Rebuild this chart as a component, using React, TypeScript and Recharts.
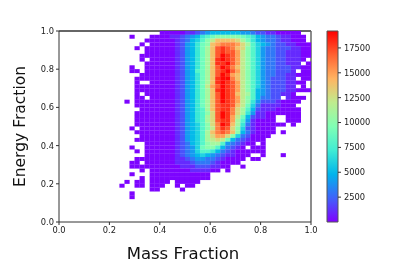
import { Bar, BarChart, ReferenceLine, Scatter, ScatterChart, XAxis, YAxis } from "recharts";

const FONT = "'DejaVu Sans', sans-serif";
const BINS = 50;
const VMAX = 19200;

const axisTicks = [0, 0.2, 0.4, 0.6, 0.8, 1];
const colorbarTicks = [2500, 5000, 7500, 10000, 12500, 15000, 17500];

// Histogram counts per cell, top row first, in thousands (base 36: a = 10000 ... j = 19000).
// "." is an empty bin, "0" a bin with a handful of counts. Spaces only group every 10 columns.
const countRows = [
  ".......... .......... 0000011234 5555554432 21100000..",
  ".......... ....0...00 0011234578 9aaaaa9875 433211000.",
  ".......... .......000 000123568a ceeeedb975 433211000.",
  ".......... ......0.00 000124579a efgggfdb86 5432211000",
  ".......... .....0.000 000124579b ehihgeda86 4332221100",
  ".......... .......000 000124579b ehihhfca86 4332211100",
  ".......... ......0000 000124579b ehjihfca86 4332211100",
  ".......... ......0.00 000124579b eijihfca86 433221110.",
  ".......... .......000 000124579b eiijhfca86 43322111.0",
  ".......... ....0..000 000124579b ehjigeca86 4332221100",
  ".......... ....00.000 000124589b ehijhfca86 4332221.00",
  ".......... ......0000 000124579b ehjifeca86 4332211000",
  ".......... .....00000 000124579b eijjgeca86 4322211.00",
  ".......... .....0..00 000124579b eijihfca86 432221100.",
  ".......... .....00000 000124579c fhjihfca86 4322211.0.",
  ".......... .....00000 000124579b eijihfca85 4322211000",
  ".......... .....0.000 000124579b ehjihecb85 4322110...",
  ".......... .....00.00 000124579b ehjihfca85 3322.1000.",
  ".......... ...0.00000 000124579b ehjihfca74 22210000..",
  ".......... .....00000 000124579b ehiihec963 1111000...",
  ".......... ......0000 000124578b ehiigdb852 11100000..",
  ".......... .....00000 000124578a dhjigdb741 10000000..",
  ".......... .....00000 000124578b dhjifc9521 100..000..",
  ".......... .....00000 000124578b dhiifb8410 000..000..",
  ".......... .....00000 000124568a dgjieb7310 00000.0...",
  ".......... ....0.0000 000124568a cgihda6210 000.......",
  ".......... .....00000 000124568b eghgea5310 000.0.....",
  ".......... ......0000 000124568b dffda63200 00........",
  ".......... .....00000 000124568b cdc9532100 0.........",
  ".......... .......000 000123568a bb8432100. 0.........",
  ".......... ....0..000 000123469a a853210.00 0.........",
  ".......... .....0.000 0001234688 7532100000 0.........",
  ".......... .......000 0001234565 43211000.. 0...0.....",
  ".......... .....00000 0001123443 3210000.00 ..........",
  ".......... ....00.000 0001112333 210000.... ..........",
  ".......... ....000000 0000111222 1100..0... ..........",
  ".......... ......0.00 0000001111 00.0...... ..........",
  ".......... ....0...00 0000000000 .......... ..........",
  ".......... ......0.00 0000000000 .......... ..........",
  ".......... ...0.00.00 00.00000.. .......... ..........",
  ".......... ..0..00.00 0..0.00... .......... ..........",
  ".......... ........00 ....0..... .......... ..........",
  ".......... ....0..... .......... .......... ..........",
  ".......... ....0..... .......... .......... ..........",
];

function toCount(ch: string) {
  return ch === "0" ? 100 : parseInt(ch, 36) * 1000;
}

// matplotlib's "rainbow" colormap
function rainbow(t: number) {
  const r = Math.min(1, Math.abs(2 * t - 0.5));
  const g = Math.sin(Math.PI * t);
  const b = Math.cos((Math.PI * t) / 2);
  const hex = (v: number) => Math.round(v * 255).toString(16).padStart(2, "0");
  return `#${hex(r)}${hex(g)}${hex(b)}`;
}

const cells: { x: number; y: number; count: number }[] = [];
countRows.forEach((row, r) => {
  row.replace(/ /g, "").split("").forEach((ch, c) => {
    if (ch !== ".") cells.push({ x: (c + 0.5) / BINS, y: 1 - (r + 0.5) / BINS, count: toCount(ch) });
  });
});

const barStops = [0, 0.125, 0.25, 0.375, 0.5, 0.625, 0.75, 0.875, 1];
const colorbarData = [{ name: "counts", value: VMAX }];

const PLOT_W = 252;
const PLOT_H = 191;

function HeatCell(props: any) {
  // a hair of overlap, otherwise white seams show between the bins
  const w = PLOT_W / BINS + 0.15;
  const h = PLOT_H / BINS + 0.15;
  return (
    <rect
      x={props.cx - w / 2}
      y={props.cy - h / 2}
      width={w}
      height={h}
      fill={rainbow(props.payload.count / VMAX)}
    />
  );
}

const tickStyle = { fontSize: 8.3, fontFamily: FONT, fill: "#222" };
const labelStyle = { fontFamily: FONT, fill: "#111" };

export default function App() {
  return (
    // the reference is a resampled raster, hence the slight blur
    <div style={{ position: "absolute", left: 0, top: 0, width: 415, height: 277, background: "#fff", filter: "blur(0.35px)" }}>
      <div style={{ position: "absolute", left: 0, top: 0 }}>
        <ScatterChart width={415} height={277} margin={{ top: 31, right: 104, bottom: 0, left: 0 }}>
          <XAxis
            type="number"
            dataKey="x"
            domain={[0, 1]}
            ticks={axisTicks}
            tickFormatter={(v: number) => v.toFixed(1)}
            height={55}
            tickSize={3}
            tickMargin={2}
            tick={tickStyle}
            stroke="#333"
            label={{ value: "Mass Fraction", position: "insideBottom", offset: 18, dx: -2, style: { ...labelStyle, fontSize: 16.5 } }}
          />
          <YAxis
            type="number"
            dataKey="y"
            domain={[0, 1]}
            ticks={axisTicks}
            tickFormatter={(v: number) => v.toFixed(1)}
            width={59}
            tickSize={3}
            tickMargin={2}
            tick={tickStyle}
            stroke="#333"
            label={{ value: "Energy Fraction", angle: -90, position: "insideLeft", offset: 19, style: { ...labelStyle, fontSize: 15.5, textAnchor: "middle" } }}
          />
          <Scatter data={cells} shape={HeatCell} isAnimationActive={false} />
          <ReferenceLine y={1} stroke="#333" strokeWidth={1.5} />
          <ReferenceLine x={1} stroke="#666" strokeWidth={1.5} />
        </ScatterChart>
      </div>
      <div style={{ position: "absolute", left: 0, top: 0 }}>
        <BarChart
          width={415}
          height={277}
          data={colorbarData}
          margin={{ top: 31, right: 0, bottom: 55, left: 327 }}
          barCategoryGap={0}
        >
          <defs>
            <linearGradient id="rainbowBar" x1="0" y1="1" x2="0" y2="0">
              {barStops.map((t) => (
                <stop key={t} offset={t} stopColor={rainbow(t)} />
              ))}
            </linearGradient>
          </defs>
          <XAxis dataKey="name" hide />
          <YAxis
            orientation="right"
            domain={[0, VMAX]}
            ticks={colorbarTicks}
            width={77}
            tickSize={3}
            tickMargin={3}
            axisLine={false}
            tick={{ ...tickStyle, textAnchor: "start" }}
            stroke="#333"
          />
          <Bar dataKey="value" fill="url(#rainbowBar)" stroke="#555" isAnimationActive={false} />
        </BarChart>
      </div>
    </div>
  );
}
